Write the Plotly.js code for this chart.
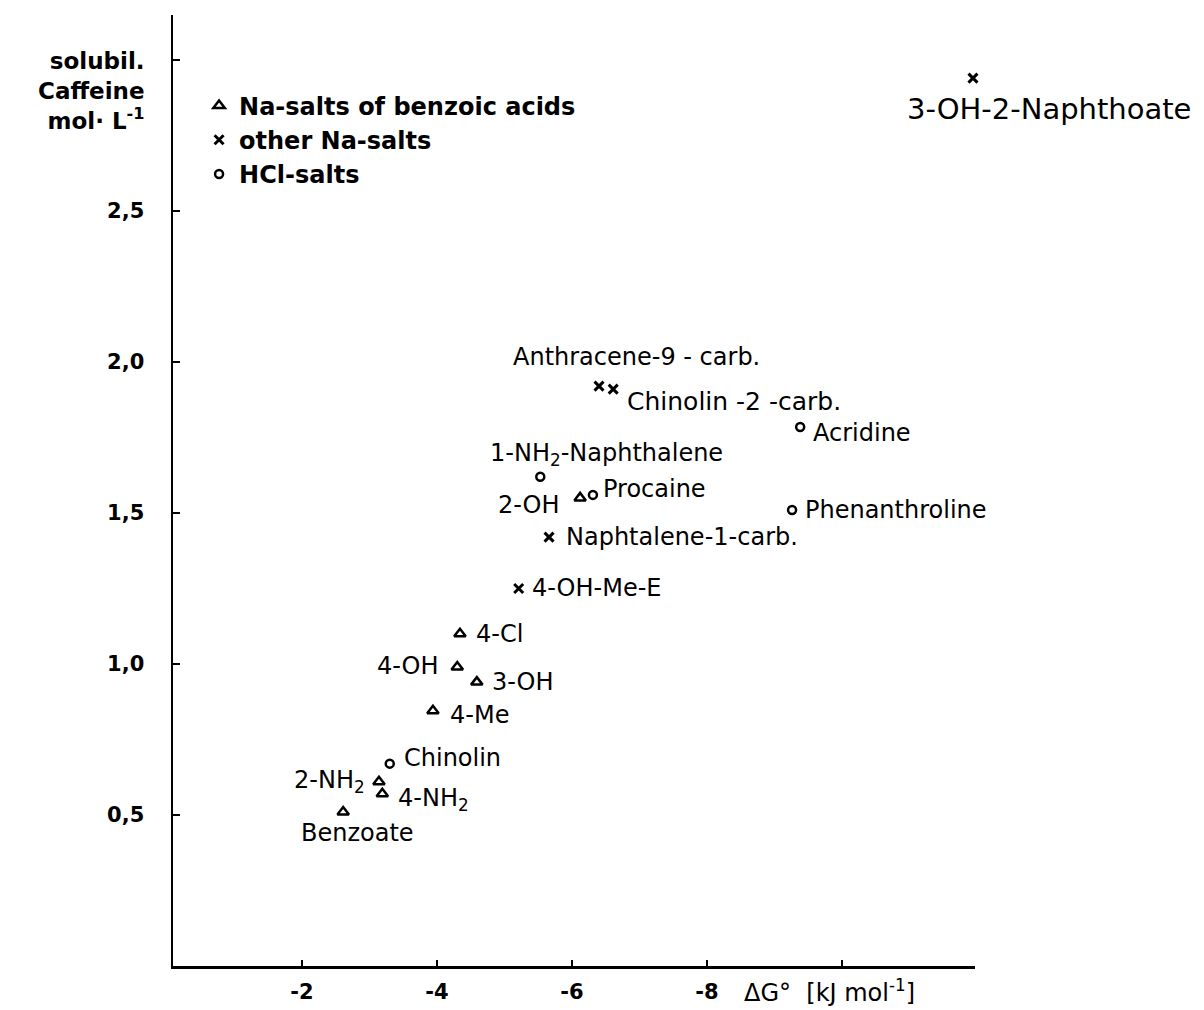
<!DOCTYPE html>
<html>
<head>
<meta charset="utf-8">
<script src="https://cdn.plot.ly/plotly-3.0.1.min.js"></script>
<style>html,body{margin:0;padding:0;background:#fff;}#chart{width:1204px;height:1010px;}</style>
</head>
<body>
<div id="chart"></div>
<script>
// ---- data ----
const benzoicNames = ['Benzoate', '2-NH<sub>2</sub>', '4-NH<sub>2</sub>', '4-Me', '3-OH', '4-OH', '4-Cl', '2-OH'];
const benzoicDG    = [-2.61, -3.14, -3.19, -3.94, -4.59, -4.30, -4.34, -6.12];
const benzoicSol   = [0.51, 0.61, 0.57, 0.845, 0.94, 0.99, 1.10, 1.55];

const otherNaNames = ['4-OH-Me-E', 'Naphtalene-1-carb.', 'Anthracene-9 - carb.', 'Chinolin -2 -carb.', '3-OH-2-Naphthoate'];
const otherNaDG    = [-5.21, -5.66, -6.40, -6.61, -11.94];
const otherNaSol   = [1.25, 1.42, 1.92, 1.91, 2.94];

const hclNames = ['Chinolin', '1-NH<sub>2</sub>-Naphthalene', 'Procaine', 'Phenanthroline', 'Acridine'];
const hclDG    = [-3.30, -5.53, -6.31, -9.26, -9.38];
const hclSol   = [0.67, 1.62, 1.56, 1.51, 1.785];

const seriesNames = ['Na-salts of benzoic acids', 'other Na-salts', 'HCl-salts'];

const xTickVals = [-2, -4, -6, -8, -10];
const xTickText = ['-2', '-4', '-6', '-8', ''];
const yTickVals = [0.5, 1.0, 1.5, 2.0, 2.5, 3.0];
const yTickText = ['0,5', '1,0', '1,5', '2,0', '2,5', ''];

// ---- label placement (layout only) ----
const labelLayout = {
  'Benzoate':            {xa: 'center', dx: 14,  dy: -21},
  '2-NH<sub>2</sub>':    {xa: 'right',  dx: -12, dy: 0},
  '4-NH<sub>2</sub>':    {xa: 'left',   dx: 14,  dy: -6},
  '4-Me':                {xa: 'left',   dx: 15,  dy: -4},
  '3-OH':                {xa: 'left',   dx: 13,  dy: 0},
  '4-OH':                {xa: 'right',  dx: -16, dy: 1},
  '4-Cl':                {xa: 'left',   dx: 14,  dy: 0},
  '2-OH':                {xa: 'right',  dx: -18, dy: -7},
  '4-OH-Me-E':           {xa: 'left',   dx: 11,  dy: 1},
  'Naphtalene-1-carb.':  {xa: 'left',   dx: 15,  dy: 0},
  'Anthracene-9 - carb.':{xa: 'left',   dx: -88, dy: 29},
  'Chinolin -2 -carb.':  {xa: 'left',   dx: 12,  dy: -12, size: 25},
  '3-OH-2-Naphthoate':   {xa: 'center', dx: 76,  dy: -31, size: 29},
  'Chinolin':            {xa: 'left',   dx: 12,  dy: 6},
  '1-NH<sub>2</sub>-Naphthalene': {xa: 'left', dx: -52, dy: 22},
  'Procaine':            {xa: 'left',   dx: 8,   dy: 6},
  'Phenanthroline':      {xa: 'left',   dx: 11,  dy: 0},
  'Acridine':            {xa: 'left',   dx: 11,  dy: -6}
};

const FONT = 'DejaVu Sans, sans-serif';
const LABEL_SIZE = 24;

const traces = [
  {x: benzoicDG, y: benzoicSol, name: seriesNames[0], type: 'scatter', mode: 'markers',
   marker: {symbol: 'triangle-up-open', size: 10, color: '#000', line: {color: '#000', width: 2.5}}, cliponaxis: false},
  {x: otherNaDG, y: otherNaSol, name: seriesNames[1], type: 'scatter', mode: 'markers',
   marker: {symbol: 'x-thin-open', size: 9, color: '#000', line: {color: '#000', width: 3}}, cliponaxis: false},
  {x: hclDG, y: hclSol, name: seriesNames[2], type: 'scatter', mode: 'markers',
   marker: {symbol: 'circle-open', size: 8, color: '#000', line: {color: '#000', width: 2.5}}, cliponaxis: false}
];

const annotations = [];
function addLabels(names, xs, ys) {
  names.forEach((n, i) => {
    const L = labelLayout[n];
    annotations.push({
      x: xs[i], y: ys[i], xref: 'x', yref: 'y', text: n, showarrow: false,
      xanchor: L.xa, yanchor: 'middle', xshift: L.dx, yshift: L.dy,
      font: {family: FONT, size: L.size || LABEL_SIZE, color: '#000'}
    });
  });
}
addLabels(benzoicNames, benzoicDG, benzoicSol);
addLabels(otherNaNames, otherNaDG, otherNaSol);
addLabels(hclNames, hclDG, hclSol);

// axis titles
annotations.push({
  xref: 'paper', yref: 'paper', x: -0.032, y: 0.967, xanchor: 'right', yanchor: 'top',
  align: 'right', showarrow: false,
  text: '<b>solubil.</b><br><b>Caffeine</b><br><b>mol· L<sup>-1</sup></b>',
  font: {family: FONT, size: 23, color: '#000'}
});
annotations.push({
  xref: 'paper', yref: 'paper', x: 0.71, y: -0.026, xanchor: 'left', yanchor: 'middle',
  showarrow: false, text: 'ΔG°  [kJ mol<sup>-1</sup>]',
  font: {family: FONT, size: 24, color: '#000'}
});

const layout = {
  width: 1204, height: 1010,
  margin: {l: 173, r: 229, t: 15, b: 44},
  paper_bgcolor: '#fff', plot_bgcolor: '#fff',
  showlegend: true,
  legend: {x: 0.0325, y: 0.928, xanchor: 'left', yanchor: 'top', bgcolor: 'rgba(0,0,0,0)',
           font: {family: FONT, size: 24, color: '#000', weight: 'bold'}, tracegroupgap: 0, itemwidth: 30},
  xaxis: {
    range: [-0.089, -11.97], showgrid: false, zeroline: false,
    showline: true, linecolor: '#000', linewidth: 2.5, mirror: false,
    ticks: 'inside', ticklen: 6, tickwidth: 2, tickcolor: '#000',
    tickmode: 'array', tickvals: xTickVals, ticktext: xTickText,
    ticklabelstandoff: 5,
    tickfont: {family: FONT, size: 21, color: '#000', weight: 'bold'}
  },
  yaxis: {
    range: [0, 3.149], showgrid: false, zeroline: false,
    showline: true, linecolor: '#000', linewidth: 2.5, mirror: false,
    ticks: 'inside', ticklen: 7, tickwidth: 2, tickcolor: '#000',
    tickmode: 'array', tickvals: yTickVals, ticktext: yTickText,
    ticklabelstandoff: 22,
    tickfont: {family: FONT, size: 21, color: '#000', weight: 'bold'}
  },
  annotations: annotations
};

Plotly.newPlot('chart', traces, layout, {displayModeBar: false, staticPlot: true});
</script>
</body>
</html>
